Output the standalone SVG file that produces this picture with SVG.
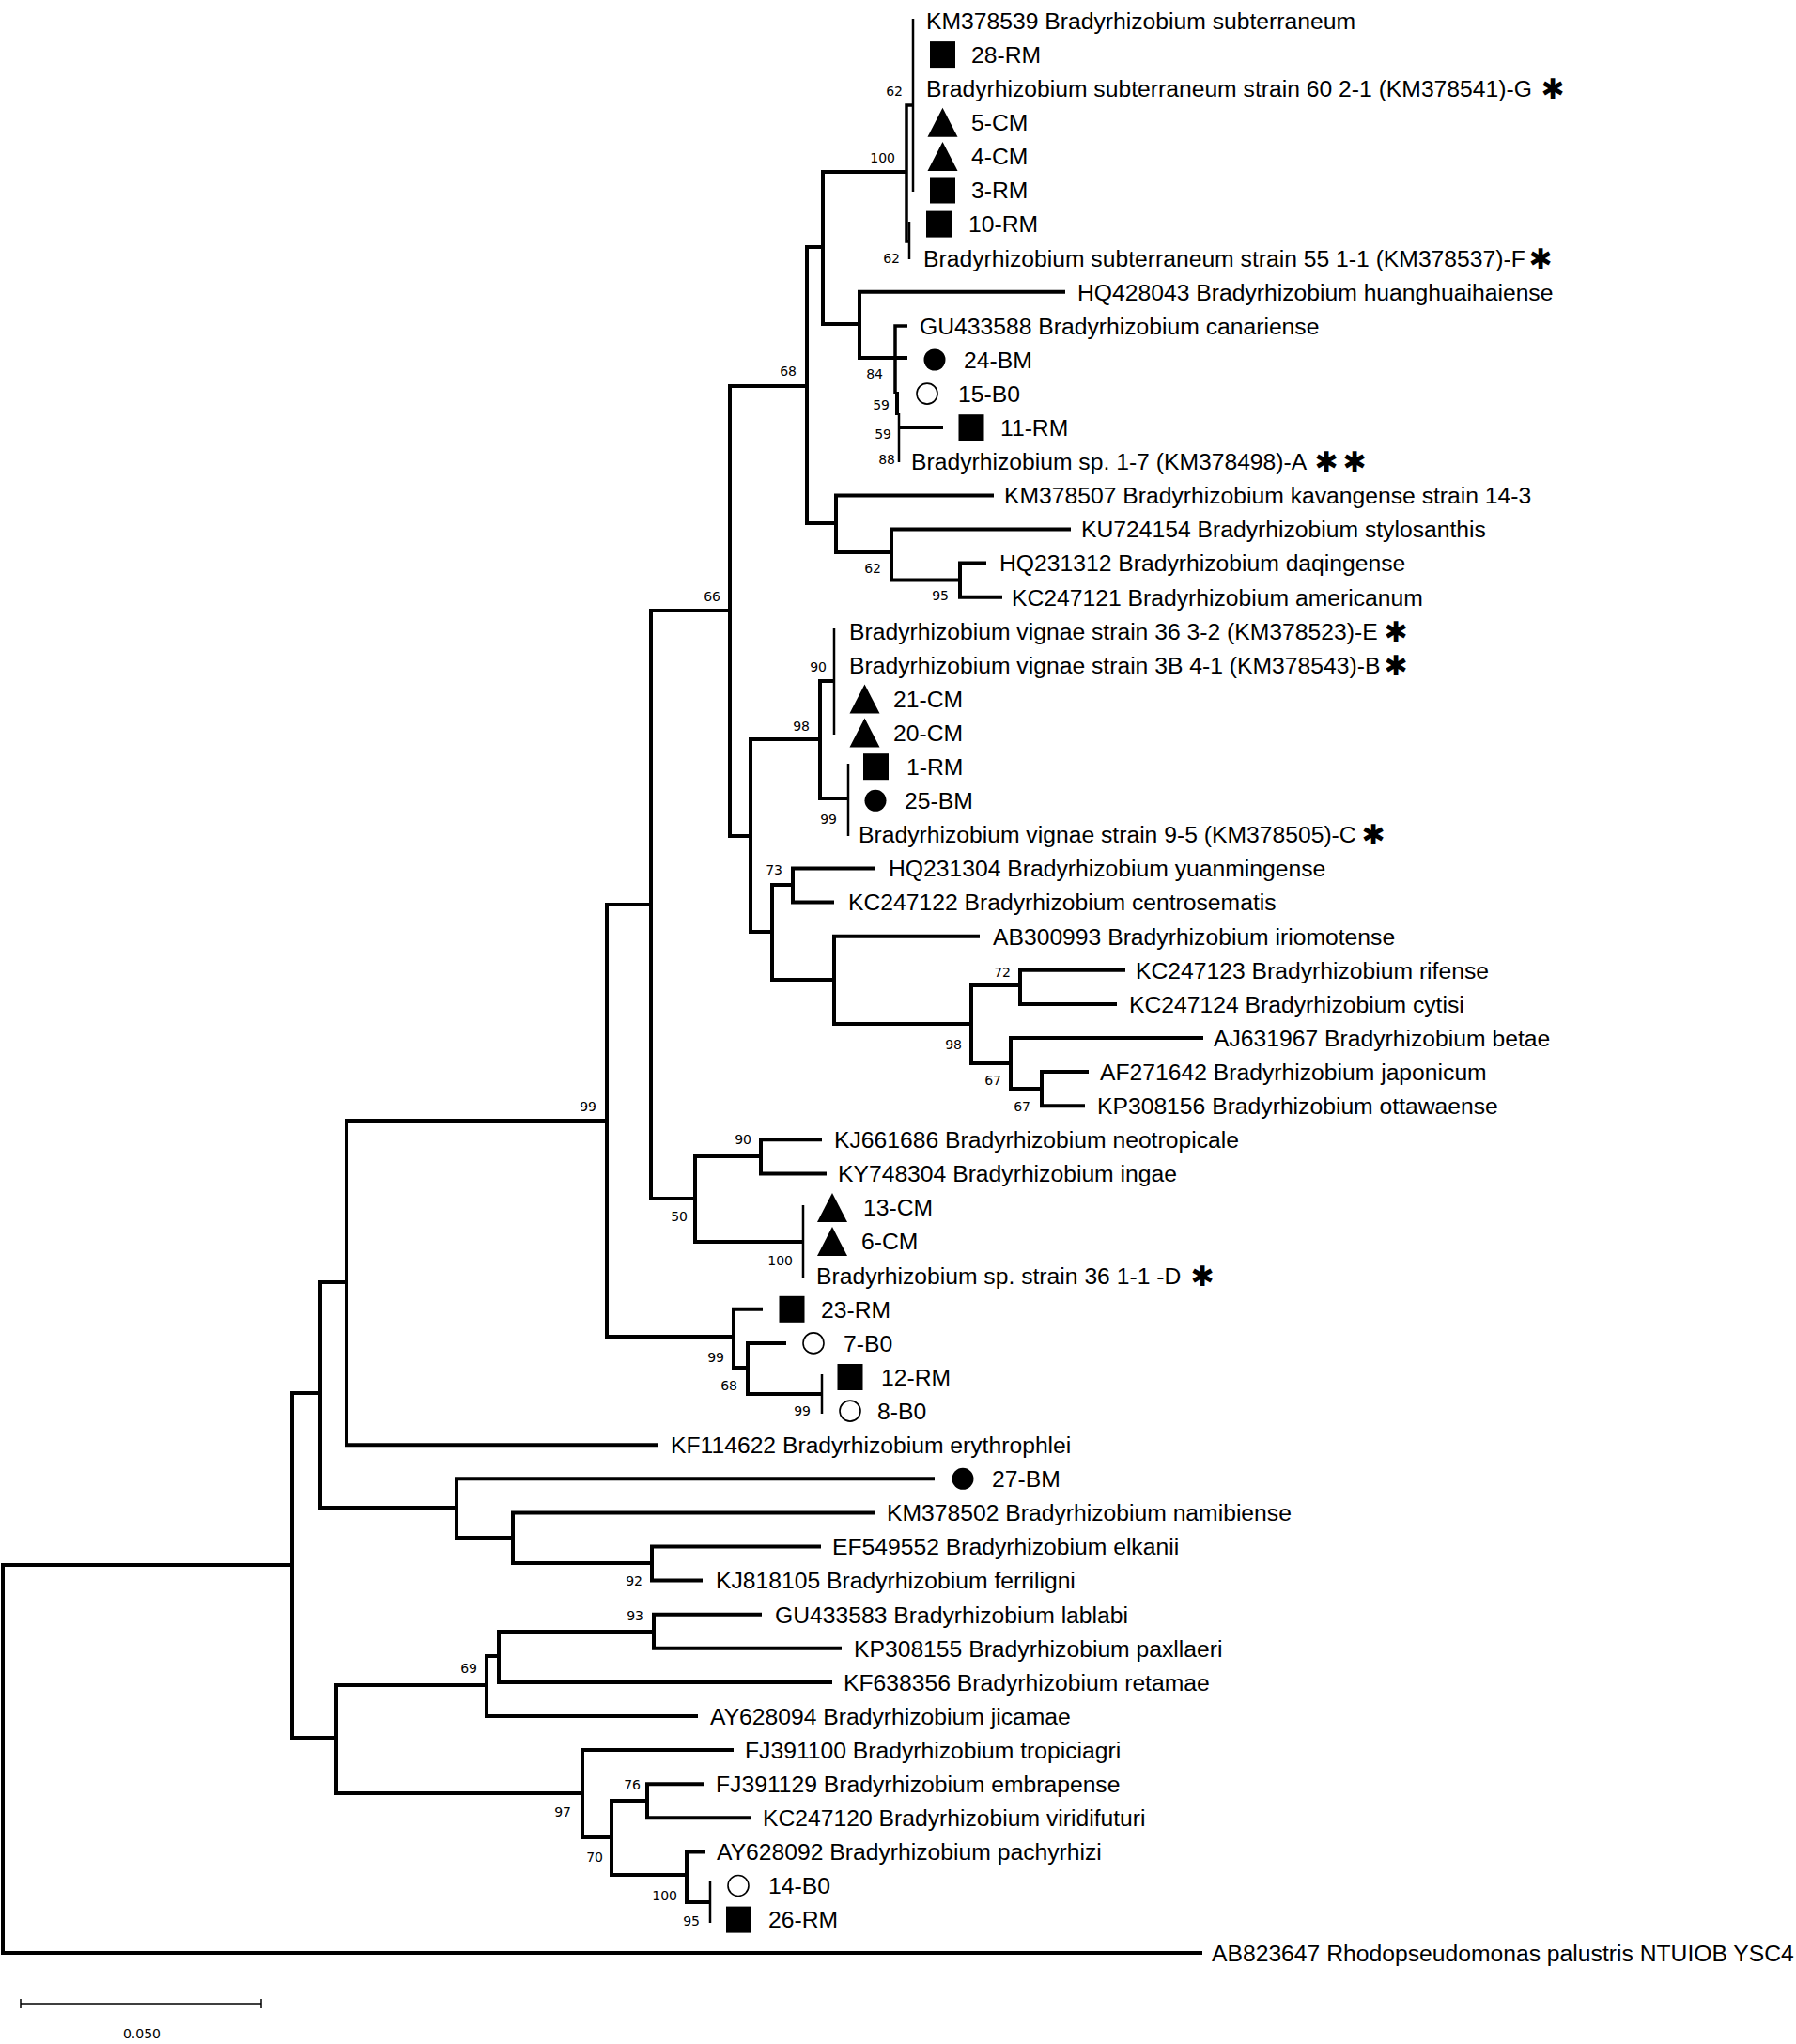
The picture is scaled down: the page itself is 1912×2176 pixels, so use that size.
<svg xmlns="http://www.w3.org/2000/svg" width="1912" height="2176" viewBox="0 0 1912 2176">
<style>
.br{fill:none;stroke:#000;stroke-width:4;stroke-linejoin:miter;stroke-linecap:butt}
.th{stroke-width:2.5}
.md{stroke-width:3.5}
.lb{font-family:"Liberation Sans",Arial,sans-serif;font-size:24.7px;fill:#000}
.bs{font-family:"DejaVu Sans",Verdana,sans-serif;font-size:14px;fill:#000;text-anchor:end}
.st{font-family:"DejaVu Sans",sans-serif;font-size:30px;fill:#000;text-anchor:middle}
.op{fill:#fff;stroke:#000;stroke-width:1.6}
.fl{fill:#000}
</style>
<defs>
<rect id="sq" x="-13.5" y="-14" width="27" height="28" class="fl"/>
<polygon id="tri" points="-16,15.5 16,15.5 0,-15.5" class="fl"/>
<circle id="fc" r="11.5" class="fl"/>
<circle id="oc" r="11" class="op"/>
</defs>
<rect width="1912" height="2176" fill="#fff"/>
<g id="connectors">
<path class="br" d="M311,1666 H3 V2079 H1280"/>
<path class="br" d="M341,1483 H311 V1850 H358"/>
<path class="br" d="M369,1365 H341 V1605 H486"/>
<path class="br" d="M646,1193 H369 V1538.2 H700"/>
<path class="br" d="M693,963 H646 V1423 H781"/>
<path class="br" d="M777,650 H693 V1276 H740"/>
<path class="br" d="M859,411 H777 V890 H799"/>
<path class="br" d="M876,263 H859 V557 H890"/>
<path class="br" d="M965,183 H876 V345 H915"/>
<path class="br md" d="M972,112 H965 V257 H968"/>
<path class="br th" d="M972,20 V204"/>
<path class="br th" d="M968,236 V276"/>
<path class="br" d="M1134,310.8 H915 V381 H966"/>
<path class="br md" d="M966,346.9 H953 V419"/>
<path class="br" d="M955,417 V442"/>
<path class="br th" d="M957,440 V492"/>
<path class="br md" d="M957,455.2 H1004"/>
<path class="br" d="M1058,527.4 H890 V588 H949"/>
<path class="br" d="M1140,563.5 H949 V617.5 H1022"/>
<path class="br" d="M1050,599.6 H1022 V635.7 H1067"/>
<path class="br" d="M873,787 H799 V992 H822"/>
<path class="br" d="M888,725 H873 V850 H903"/>
<path class="br th" d="M888,669 V782"/>
<path class="br th" d="M903,813 V890"/>
<path class="br" d="M844,942 H822 V1043 H888"/>
<path class="br" d="M932,924.5 H844 V960.6 H888"/>
<path class="br" d="M1043,996.7 H888 V1090 H1034"/>
<path class="br" d="M1086,1049 H1034 V1132 H1076"/>
<path class="br" d="M1198,1032.8 H1086 V1068.9 H1189"/>
<path class="br" d="M1281,1105 H1076 V1159 H1109"/>
<path class="br" d="M1159,1141.1 H1109 V1177.2 H1155"/>
<path class="br" d="M810,1231 H740 V1322 H855"/>
<path class="br" d="M875,1213.3 H810 V1249.4 H880"/>
<path class="br th" d="M855,1283 V1360"/>
<path class="br" d="M812,1393.8 H781 V1456 H796"/>
<path class="br" d="M837,1429.9 H796 V1484 H875"/>
<path class="br th" d="M875,1463 V1505"/>
<path class="br" d="M995,1574.3 H486 V1637 H546"/>
<path class="br" d="M931,1610.4 H546 V1664 H694"/>
<path class="br" d="M874,1646.5 H694 V1682.6 H748"/>
<path class="br" d="M518,1794 H358 V1909 H620"/>
<path class="br" d="M531,1763 H518 V1827 H743"/>
<path class="br" d="M696,1737 H531 V1790.9 H886"/>
<path class="br" d="M811,1718.7 H696 V1754.8 H896"/>
<path class="br" d="M781,1863.1 H620 V1956 H651"/>
<path class="br" d="M689,1917 H651 V1996 H731"/>
<path class="br" d="M749,1899.2 H689 V1935.3 H799"/>
<path class="br" d="M751,1971.4 H731 V2025 H756"/>
<path class="br th" d="M756,2003 V2047"/>
</g>
<g id="bootstrap">
<text class="bs" x="961" y="102">62</text>
<text class="bs" x="953" y="173">100</text>
<text class="bs" x="958" y="280">62</text>
<text class="bs" x="940" y="403">84</text>
<text class="bs" x="947" y="436">59</text>
<text class="bs" x="949" y="467">59</text>
<text class="bs" x="953" y="494">88</text>
<text class="bs" x="848" y="400">68</text>
<text class="bs" x="938" y="610">62</text>
<text class="bs" x="1010" y="639">95</text>
<text class="bs" x="767" y="640">66</text>
<text class="bs" x="880" y="715">90</text>
<text class="bs" x="862" y="778">98</text>
<text class="bs" x="891" y="877">99</text>
<text class="bs" x="833" y="931">73</text>
<text class="bs" x="1076" y="1040">72</text>
<text class="bs" x="1024" y="1117">98</text>
<text class="bs" x="1066" y="1155">67</text>
<text class="bs" x="1097" y="1183">67</text>
<text class="bs" x="635" y="1183">99</text>
<text class="bs" x="800" y="1218">90</text>
<text class="bs" x="732" y="1300">50</text>
<text class="bs" x="844" y="1347">100</text>
<text class="bs" x="771" y="1450">99</text>
<text class="bs" x="785" y="1480">68</text>
<text class="bs" x="863" y="1507">99</text>
<text class="bs" x="684" y="1688">92</text>
<text class="bs" x="685" y="1725">93</text>
<text class="bs" x="508" y="1781">69</text>
<text class="bs" x="682" y="1905">76</text>
<text class="bs" x="608" y="1934">97</text>
<text class="bs" x="642" y="1982">70</text>
<text class="bs" x="721" y="2023">100</text>
<text class="bs" x="745" y="2050">95</text>
</g>
<g id="leaf-KM378539"><text class="lb" x="986" y="30.8">KM378539 Bradyrhizobium subterraneum</text></g>
<g id="leaf-28-RM"><use href="#sq" x="1003.5" y="58.1"/><text class="lb" x="1034" y="66.9">28-RM</text></g>
<g id="leaf-strain-60"><text class="lb" x="986" y="103">Bradyrhizobium subterraneum strain 60 2-1 (KM378541)-G</text><text class="st" x="1653" y="105">✱</text></g>
<g id="leaf-5-CM"><use href="#tri" x="1003.5" y="130.3"/><text class="lb" x="1034" y="139.1">5-CM</text></g>
<g id="leaf-4-CM"><use href="#tri" x="1003.5" y="166.4"/><text class="lb" x="1034" y="175.2">4-CM</text></g>
<g id="leaf-3-RM"><use href="#sq" x="1003.5" y="202.5"/><text class="lb" x="1034" y="211.3">3-RM</text></g>
<g id="leaf-10-RM"><use href="#sq" x="999.5" y="238.6"/><text class="lb" x="1031" y="247.4">10-RM</text></g>
<g id="leaf-strain-55"><text class="lb" x="983" y="283.5">Bradyrhizobium subterraneum strain 55 1-1 (KM378537)-F</text><text class="st" x="1640" y="285.5">✱</text></g>
<g id="leaf-HQ428043"><text class="lb" x="1147" y="319.6">HQ428043 Bradyrhizobium huanghuaihaiense</text></g>
<g id="leaf-GU433588"><text class="lb" x="979" y="355.7">GU433588 Bradyrhizobium canariense</text></g>
<g id="leaf-24-BM"><use href="#fc" x="995" y="383"/><text class="lb" x="1026" y="391.8">24-BM</text></g>
<g id="leaf-15-B0"><use href="#oc" x="987" y="419.1"/><text class="lb" x="1020" y="427.9">15-B0</text></g>
<g id="leaf-11-RM"><use href="#sq" x="1034" y="455.2"/><text class="lb" x="1065" y="464">11-RM</text></g>
<g id="leaf-sp-1-7"><text class="lb" x="970" y="500.1">Bradyrhizobium sp. 1-7 (KM378498)-A</text><text class="st" x="1412" y="502">✱</text><text class="st" x="1442" y="502">✱</text></g>
<g id="leaf-KM378507"><text class="lb" x="1069" y="536.2">KM378507 Bradyrhizobium kavangense strain 14-3</text></g>
<g id="leaf-KU724154"><text class="lb" x="1151" y="572.3">KU724154 Bradyrhizobium stylosanthis</text></g>
<g id="leaf-HQ231312"><text class="lb" x="1064" y="608.4">HQ231312 Bradyrhizobium daqingense</text></g>
<g id="leaf-KC247121"><text class="lb" x="1077" y="644.5">KC247121 Bradyrhizobium americanum</text></g>
<g id="leaf-vignae-36"><text class="lb" x="904" y="680.6">Bradyrhizobium vignae strain 36 3-2 (KM378523)-E</text><text class="st" x="1486" y="682.6">✱</text></g>
<g id="leaf-vignae-3B"><text class="lb" x="904" y="716.7">Bradyrhizobium vignae strain 3B 4-1 (KM378543)-B</text><text class="st" x="1486" y="718.7">✱</text></g>
<g id="leaf-21-CM"><use href="#tri" x="920.5" y="744"/><text class="lb" x="951" y="752.8">21-CM</text></g>
<g id="leaf-20-CM"><use href="#tri" x="920.5" y="780.1"/><text class="lb" x="951" y="788.9">20-CM</text></g>
<g id="leaf-1-RM"><use href="#sq" x="932.5" y="816.2"/><text class="lb" x="965" y="825">1-RM</text></g>
<g id="leaf-25-BM"><use href="#fc" x="932" y="852.3"/><text class="lb" x="963" y="861.1">25-BM</text></g>
<g id="leaf-vignae-9-5"><text class="lb" x="914" y="897.2">Bradyrhizobium vignae strain 9-5 (KM378505)-C</text><text class="st" x="1462" y="899.2">✱</text></g>
<g id="leaf-HQ231304"><text class="lb" x="946" y="933.3">HQ231304 Bradyrhizobium yuanmingense</text></g>
<g id="leaf-KC247122"><text class="lb" x="903" y="969.4">KC247122 Bradyrhizobium centrosematis</text></g>
<g id="leaf-AB300993"><text class="lb" x="1057" y="1005.5">AB300993 Bradyrhizobium iriomotense</text></g>
<g id="leaf-KC247123"><text class="lb" x="1209" y="1041.6">KC247123 Bradyrhizobium rifense</text></g>
<g id="leaf-KC247124"><text class="lb" x="1202" y="1077.7">KC247124 Bradyrhizobium cytisi</text></g>
<g id="leaf-AJ631967"><text class="lb" x="1292" y="1113.8">AJ631967 Bradyrhizobium betae</text></g>
<g id="leaf-AF271642"><text class="lb" x="1171" y="1149.9">AF271642 Bradyrhizobium japonicum</text></g>
<g id="leaf-KP308156"><text class="lb" x="1168" y="1186">KP308156 Bradyrhizobium ottawaense</text></g>
<g id="leaf-KJ661686"><text class="lb" x="888" y="1222.1">KJ661686 Bradyrhizobium neotropicale</text></g>
<g id="leaf-KY748304"><text class="lb" x="892" y="1258.2">KY748304 Bradyrhizobium ingae</text></g>
<g id="leaf-13-CM"><use href="#tri" x="886" y="1285.5"/><text class="lb" x="919" y="1294.3">13-CM</text></g>
<g id="leaf-6-CM"><use href="#tri" x="886" y="1321.6"/><text class="lb" x="917" y="1330.4">6-CM</text></g>
<g id="leaf-sp-36-1-1"><text class="lb" x="869" y="1366.5">Bradyrhizobium sp. strain 36 1-1 -D</text><text class="st" x="1280" y="1368.5">✱</text></g>
<g id="leaf-23-RM"><use href="#sq" x="843" y="1393.8"/><text class="lb" x="874" y="1402.6">23-RM</text></g>
<g id="leaf-7-B0"><use href="#oc" x="866" y="1429.9"/><text class="lb" x="898" y="1438.7">7-B0</text></g>
<g id="leaf-12-RM"><use href="#sq" x="905" y="1466"/><text class="lb" x="938" y="1474.8">12-RM</text></g>
<g id="leaf-8-B0"><use href="#oc" x="905" y="1502.1"/><text class="lb" x="934" y="1510.9">8-B0</text></g>
<g id="leaf-KF114622"><text class="lb" x="714" y="1547">KF114622 Bradyrhizobium erythrophlei</text></g>
<g id="leaf-27-BM"><use href="#fc" x="1025" y="1574.3"/><text class="lb" x="1056" y="1583.1">27-BM</text></g>
<g id="leaf-KM378502"><text class="lb" x="944" y="1619.2">KM378502 Bradyrhizobium namibiense</text></g>
<g id="leaf-EF549552"><text class="lb" x="886" y="1655.3">EF549552 Bradyrhizobium elkanii</text></g>
<g id="leaf-KJ818105"><text class="lb" x="762" y="1691.4">KJ818105 Bradyrhizobium ferriligni</text></g>
<g id="leaf-GU433583"><text class="lb" x="825" y="1727.5">GU433583 Bradyrhizobium lablabi</text></g>
<g id="leaf-KP308155"><text class="lb" x="909" y="1763.6">KP308155 Bradyrhizobium paxllaeri</text></g>
<g id="leaf-KF638356"><text class="lb" x="898" y="1799.7">KF638356 Bradyrhizobium retamae</text></g>
<g id="leaf-AY628094"><text class="lb" x="756" y="1835.8">AY628094 Bradyrhizobium jicamae</text></g>
<g id="leaf-FJ391100"><text class="lb" x="793" y="1871.9">FJ391100 Bradyrhizobium tropiciagri</text></g>
<g id="leaf-FJ391129"><text class="lb" x="762" y="1908">FJ391129 Bradyrhizobium embrapense</text></g>
<g id="leaf-KC247120"><text class="lb" x="812" y="1944.1">KC247120 Bradyrhizobium viridifuturi</text></g>
<g id="leaf-AY628092"><text class="lb" x="763" y="1980.2">AY628092 Bradyrhizobium pachyrhizi</text></g>
<g id="leaf-14-B0"><use href="#oc" x="786" y="2007.5"/><text class="lb" x="818" y="2016.3">14-B0</text></g>
<g id="leaf-26-RM"><use href="#sq" x="786.5" y="2043.6"/><text class="lb" x="818" y="2052.4">26-RM</text></g>
<g id="leaf-AB823647"><text class="lb" x="1290" y="2088">AB823647 Rhodopseudomonas palustris NTUIOB YSC4</text></g>
<g id="scale-bar">
<path fill="none" stroke="#000" stroke-width="1.5" d="M22,2133 H278 M22,2128 V2138 M278,2128 V2138"/>
<text class="bs" x="171" y="2170">0.050</text>
</g>
</svg>
